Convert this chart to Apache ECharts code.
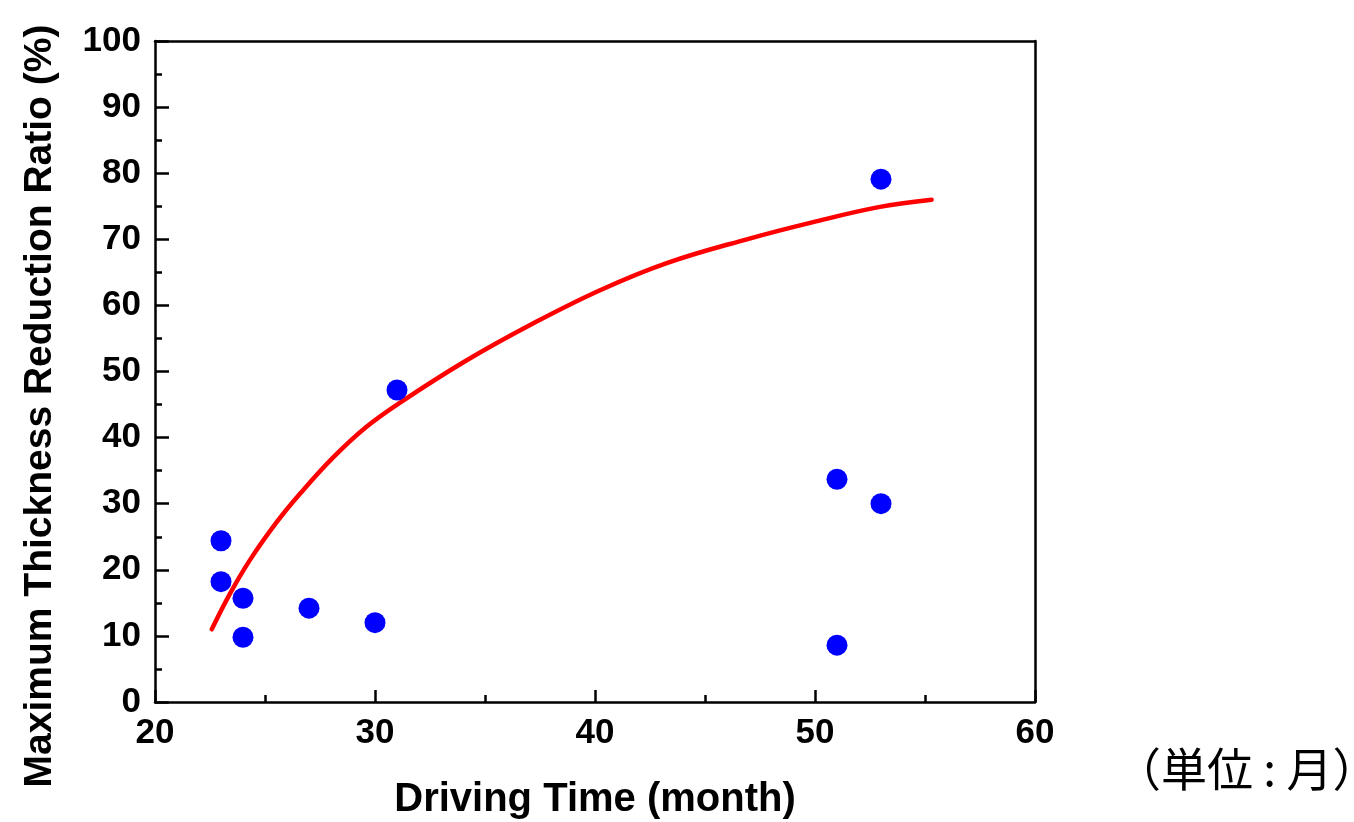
<!DOCTYPE html>
<html>
<head>
<meta charset="utf-8">
<script src="https://cdn.jsdelivr.net/npm/echarts@6/dist/echarts.min.js"></script>
<style>
html,body{margin:0;padding:0;background:#fff;}
#chart{width:1354px;height:822px;}
</style>
</head>
<body>
<div id="chart"></div>
<script>
// Measured data points: [driving time (month), max thickness reduction ratio (%)]
const pointsX = [23, 23, 24, 24, 27, 30, 31, 51, 51, 53, 53];
const pointsY = [24.4, 18.2, 15.7, 9.8, 14.2, 12.0, 47.2, 33.7, 8.6, 30.0, 79.1];

// Fitted curve
const curveX = [22.58, 23.41, 24.32, 25.53, 26.59, 28.1, 29.6, 31.14, 34.17, 37.2, 40.23, 43.26, 46.9, 49.92, 52.95, 55.3];
const curveY = [11.0, 16.4, 21.5, 27.2, 31.5, 37.0, 41.6, 45.3, 51.7, 57.3, 62.3, 66.4, 70.0, 72.6, 74.9, 76.0];

const xTicks = [20, 30, 40, 50, 60];
const yTicks = [0, 10, 20, 30, 40, 50, 60, 70, 80, 90, 100];

const xTitle = 'Driving Time (month)';
const yTitle = 'Maximum Thickness Reduction Ratio (%)';
const unitNote = '（単位 : 月）';

const chart = echarts.init(document.getElementById('chart'));
const lineStyleAxis = {color: '#000', width: 2.5};
const labelFont = {fontFamily: 'Liberation Sans, Arial, sans-serif', fontWeight: 'bold', fontSize: 35, color: '#000'};

chart.setOption({
  backgroundColor: '#fff',
  animation: false,
  grid: {left: 155, right: 319, top: 41, bottom: 120, outerBoundsMode: 'none', containLabel: false},
  xAxis: [{
    type: 'value', min: xTicks[0], max: xTicks[xTicks.length - 1], interval: 10,
    position: 'bottom',
    axisLine: {show: true, onZero: false, lineStyle: lineStyleAxis},
    axisTick: {show: true, inside: true, length: 12, lineStyle: lineStyleAxis},
    minorTick: {show: true, splitNumber: 2, length: 7, lineStyle: lineStyleAxis},
    splitLine: {show: false},
    axisLabel: Object.assign({margin: 14}, labelFont),
    name: xTitle, nameLocation: 'middle', nameGap: 78,
    nameTextStyle: {fontFamily: 'Liberation Sans, Arial, sans-serif', fontWeight: 'bold', fontSize: 40, color: '#000'}
  }, {
    type: 'value', min: xTicks[0], max: xTicks[xTicks.length - 1], interval: 10,
    position: 'top',
    axisLine: {show: true, onZero: false, lineStyle: lineStyleAxis},
    axisTick: {show: false}, axisLabel: {show: false}, splitLine: {show: false}
  }],
  yAxis: [{
    type: 'value', min: yTicks[0], max: yTicks[yTicks.length - 1], interval: 10,
    position: 'left',
    axisLine: {show: true, onZero: false, lineStyle: lineStyleAxis},
    axisTick: {show: true, inside: true, length: 14, lineStyle: lineStyleAxis},
    minorTick: {show: true, splitNumber: 2, length: 7, lineStyle: lineStyleAxis},
    splitLine: {show: false},
    axisLabel: Object.assign({margin: 14}, labelFont)
  }, {
    type: 'value', min: yTicks[0], max: yTicks[yTicks.length - 1], interval: 10,
    position: 'right',
    axisLine: {show: true, onZero: false, lineStyle: lineStyleAxis},
    axisTick: {show: false}, axisLabel: {show: false}, splitLine: {show: false}
  }],
  graphic: [{
    type: 'text', x: 40, y: 406, rotation: Math.PI / 2,
    style: {text: yTitle, font: 'bold 39px "Liberation Sans", Arial, sans-serif', fill: '#000', align: 'center', verticalAlign: 'middle'}
  }, {
    type: 'text', x: 1115, y: 769,
    style: {text: unitNote, font: '46px "Noto Sans CJK JP", sans-serif', fill: '#000', verticalAlign: 'middle', align: 'left'}
  }],
  series: [{
    type: 'line',
    data: curveX.map((x, i) => [x, curveY[i]]),
    smooth: 0.4, showSymbol: false,
    lineStyle: {color: '#FF0000', width: 4.5, cap: 'round'},
    z: 2
  }, {
    type: 'scatter',
    data: pointsX.map((x, i) => [x, pointsY[i]]),
    symbol: 'circle', symbolSize: 21,
    itemStyle: {color: '#0000FF', opacity: 1},
    z: 3
  }]
});
</script>
</body>
</html>
